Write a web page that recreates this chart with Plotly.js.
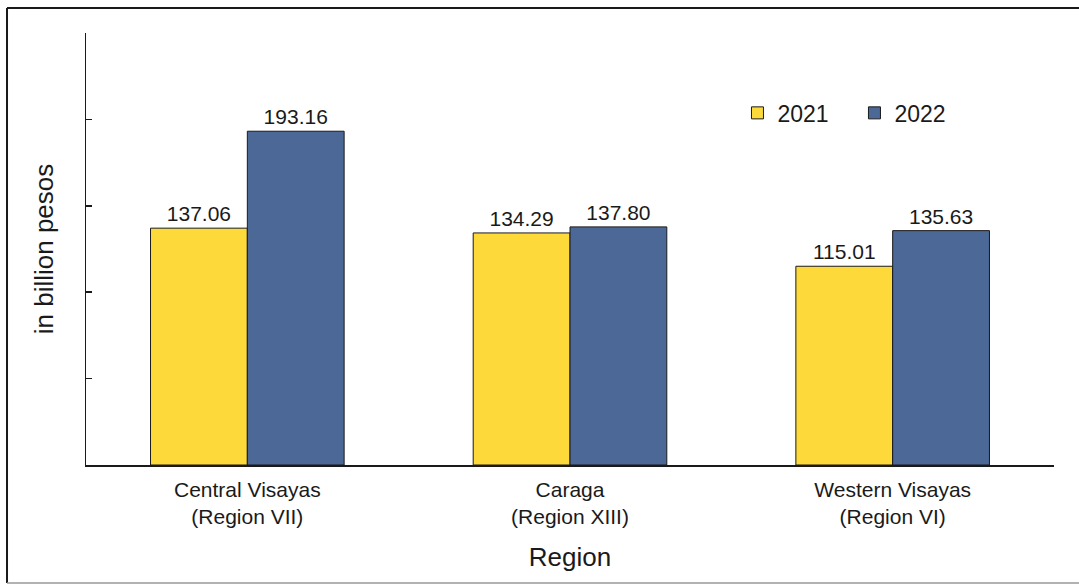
<!DOCTYPE html>
<html>
<head>
<meta charset="utf-8">
<script src="https://cdn.plot.ly/plotly-3.0.1.min.js"></script>
<style>html,body{margin:0;padding:0;background:#fff;}#chart{width:1079px;height:586px;}</style>
</head>
<body>
<div id="chart"></div>
<script>
const categories = ["Central Visayas<br>(Region VII)", "Caraga<br>(Region XIII)", "Western Visayas<br>(Region VI)"];
const values2021 = [137.06, 134.29, 115.01];
const values2022 = [193.16, 137.80, 135.63];
const seriesNames = ["2021", "2022"];
const yTicks = [0, 50, 100, 150, 200, 250];

const font = "Liberation Sans, Arial, sans-serif";
const ink = "#1a1a1a";
const traces = [
  {type: "bar", name: seriesNames[0], x: categories, y: values2021,
   marker: {color: "#FDDA3A", line: {color: ink, width: 1}},
   texttemplate: "%{y:.2f}", textposition: "outside", cliponaxis: false,
   textfont: {family: font, size: 21, color: ink}},
  {type: "bar", name: seriesNames[1], x: categories, y: values2022,
   marker: {color: "#4B6896", line: {color: ink, width: 1}},
   texttemplate: "%{y:.2f}", textposition: "outside", cliponaxis: false,
   textfont: {family: font, size: 21, color: ink}}
];

const layout = {
  width: 1079, height: 586,
  margin: {l: 86, r: 25, t: 33, b: 121},
  paper_bgcolor: "#fff", plot_bgcolor: "#fff",
  font: {family: font, color: ink},
  barmode: "group", bargap: 0.4, bargroupgap: 0,
  showlegend: true,
  legend: {orientation: "h", x: 0.673, y: 0.815, xanchor: "left", yanchor: "middle",
           font: {family: font, size: 23, color: ink}, itemwidth: 30,
           entrywidth: 72, entrywidthmode: "pixels",
           bgcolor: "rgba(0,0,0,0)"},
  xaxis: {
    showline: true, linecolor: ink, linewidth: 1.5, ticks: "", mirror: false,
    tickfont: {family: font, size: 21, color: ink}, ticklabelstandoff: 5,
    title: {text: "Region", font: {family: font, size: 26, color: ink}, standoff: 21},
    showgrid: false, zeroline: false
  },
  yaxis: {
    range: [0, 250], tickvals: yTicks, showticklabels: false,
    ticks: "inside", ticklen: 6, tickcolor: ink, tickwidth: 1.5,
    showline: true, linecolor: ink, linewidth: 1.5,
    showgrid: false, zeroline: false,
    title: {text: "in billion pesos", font: {family: font, size: 26, color: ink}, standoff: 23}
  },
  shapes: [
    {type: "line", xref: "paper", yref: "paper", x0: -0.0816, x1: 1.03, y0: 1.0579, y1: 1.0579, line: {color: ink, width: 2}},
    {type: "line", xref: "paper", yref: "paper", x0: -0.0816, x1: -0.0816, y0: 1.0579, y1: -0.273, line: {color: ink, width: 2}},
    {type: "line", xref: "paper", yref: "paper", x0: -0.0816, x1: 1.03, y0: -0.273, y1: -0.273, line: {color: "#999", width: 1.5}}
  ]
};

Plotly.newPlot("chart", traces, layout, {displayModeBar: false, staticPlot: true});
</script>
</body>
</html>
